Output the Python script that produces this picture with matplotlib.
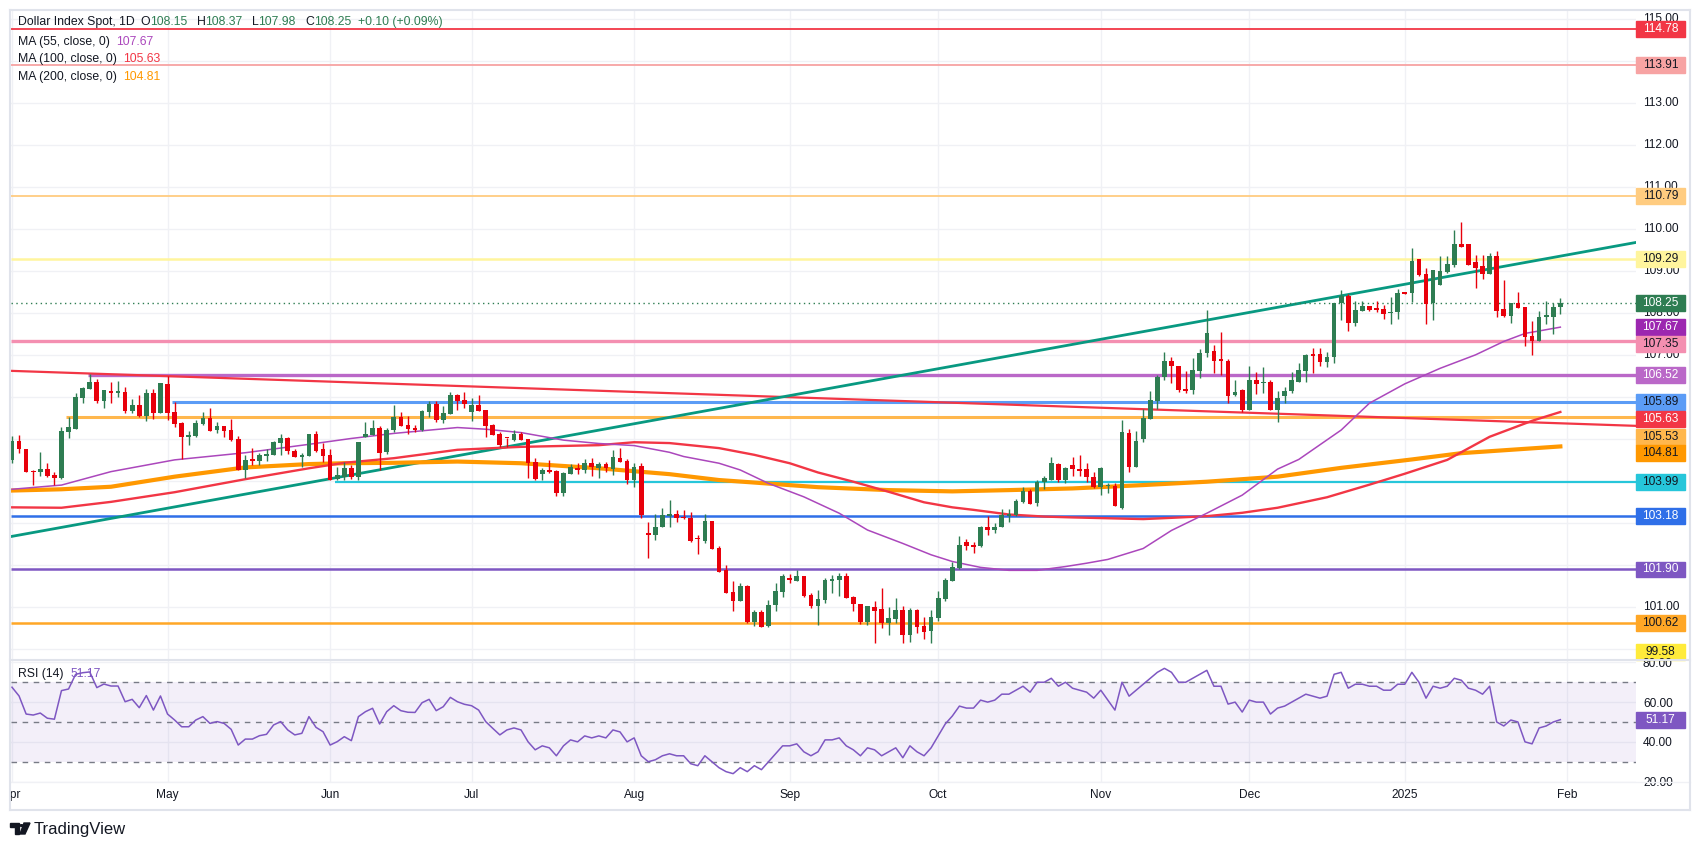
import numpy as np
import pandas as pd
import matplotlib
matplotlib.use('Agg')
import matplotlib.pyplot as plt
import matplotlib.transforms as mtransforms
from matplotlib.patches import Rectangle, Polygon, Circle

plt.rcParams['font.family'] = ['Liberation Sans', 'DejaVu Sans']

# daily bars, Apr 1 2024 .. Jan 31 2025 (weekdays)
dates = pd.bdate_range('2024-04-01', '2025-01-31')

# OHLC, one row per bar
ohlc = [
    (104.51, 105.08, 104.44, 104.96), (104.96, 105.10, 104.68, 104.76), (104.77, 104.77, 104.23, 104.23),
    (104.25, 104.27, 103.91, 104.21), (104.21, 104.70, 104.13, 104.29), (104.29, 104.44, 104.11, 104.13),
    (104.16, 104.23, 103.90, 104.09), (104.09, 105.29, 104.05, 105.20), (105.18, 105.52, 105.04, 105.29),
    (105.25, 106.11, 105.25, 106.01), (105.99, 106.24, 105.86, 106.22), (106.20, 106.55, 106.20, 106.36),
    (106.36, 106.44, 105.87, 105.92), (105.92, 106.17, 105.75, 106.17), (106.15, 106.37, 105.87, 106.11),
    (106.11, 106.39, 106.01, 106.13), (106.13, 106.24, 105.63, 105.67), (105.67, 105.96, 105.62, 105.82),
    (105.82, 106.05, 105.54, 105.56), (105.56, 106.19, 105.44, 106.10), (106.10, 106.19, 105.48, 105.63),
    (105.63, 106.34, 105.63, 106.34), (106.32, 106.50, 105.46, 105.63), (105.65, 105.89, 105.29, 105.37),
    (105.39, 105.40, 104.52, 105.06), (105.06, 105.20, 104.86, 105.10), (105.08, 105.46, 105.06, 105.39),
    (105.36, 105.65, 105.34, 105.51), (105.51, 105.74, 105.20, 105.20), (105.22, 105.40, 105.14, 105.32),
    (105.32, 105.32, 105.06, 105.20), (105.22, 105.48, 104.96, 104.98), (105.00, 105.08, 104.27, 104.27),
    (104.27, 104.63, 104.09, 104.51), (104.51, 104.80, 104.39, 104.49), (104.49, 104.68, 104.39, 104.63),
    (104.61, 104.78, 104.49, 104.65), (104.63, 104.96, 104.63, 104.94), (104.92, 105.13, 104.63, 105.04),
    (105.04, 105.06, 104.65, 104.73), (104.73, 104.77, 104.59, 104.59), (104.59, 104.67, 104.35, 104.63),
    (104.60, 105.13, 104.60, 105.13), (105.13, 105.20, 104.69, 104.73), (104.77, 104.90, 104.45, 104.61),
    (104.63, 104.78, 104.03, 104.03), (104.05, 104.35, 104.03, 104.15), (104.11, 104.45, 104.03, 104.32),
    (104.32, 104.39, 104.05, 104.11), (104.11, 104.94, 104.02, 104.94), (105.05, 105.40, 105.05, 105.13),
    (105.10, 105.46, 105.10, 105.27), (105.27, 105.32, 104.27, 104.68), (104.70, 105.28, 104.65, 105.22),
    (105.22, 105.82, 105.18, 105.52), (105.52, 105.65, 105.32, 105.32), (105.33, 105.55, 105.13, 105.24),
    (105.25, 105.34, 105.17, 105.23), (105.22, 105.70, 105.20, 105.67), (105.66, 105.91, 105.52, 105.85),
    (105.85, 105.91, 105.40, 105.46), (105.46, 105.79, 105.38, 105.63), (105.61, 106.13, 105.61, 106.05),
    (106.05, 106.08, 105.70, 105.92), (105.94, 106.13, 105.75, 105.85), (105.66, 105.98, 105.44, 105.82),
    (105.82, 106.05, 105.67, 105.67), (105.70, 105.70, 105.06, 105.32), (105.33, 105.36, 105.10, 105.10),
    (105.12, 105.17, 104.82, 104.86), (105.04, 105.04, 104.81, 105.02), (104.98, 105.22, 104.97, 105.13),
    (105.13, 105.17, 104.98, 104.98), (105.00, 105.00, 104.09, 104.44), (104.46, 104.55, 104.03, 104.05),
    (104.17, 104.32, 104.03, 104.27), (104.27, 104.51, 104.19, 104.22), (104.24, 104.28, 103.66, 103.73),
    (103.73, 104.21, 103.66, 104.19), (104.17, 104.41, 104.17, 104.34), (104.32, 104.44, 104.17, 104.28),
    (104.27, 104.53, 104.20, 104.44), (104.44, 104.55, 104.12, 104.34), (104.32, 104.45, 104.09, 104.41),
    (104.41, 104.45, 104.23, 104.32), (104.30, 104.74, 104.15, 104.58), (104.55, 104.79, 104.46, 104.46),
    (104.48, 104.53, 103.94, 104.03), (104.03, 104.44, 103.87, 104.34), (104.36, 104.44, 103.13, 103.19),
    (102.77, 103.03, 102.17, 102.73), (102.73, 103.22, 102.61, 102.91), (102.90, 103.36, 102.90, 103.19),
    (103.17, 103.55, 102.92, 103.21), (103.21, 103.32, 103.04, 103.13), (103.16, 103.32, 103.11, 103.13),
    (103.13, 103.26, 102.55, 102.58), (102.64, 102.72, 102.27, 102.62), (102.58, 103.21, 102.52, 103.05),
    (103.05, 103.05, 102.39, 102.39), (102.40, 102.47, 101.85, 101.85), (101.89, 102.01, 101.35, 101.35),
    (101.36, 101.63, 100.91, 101.15), (101.15, 101.57, 101.15, 101.51), (101.51, 101.53, 100.63, 100.66),
    (100.66, 100.94, 100.55, 100.89), (100.89, 100.94, 100.54, 100.54), (100.55, 101.17, 100.54, 101.05),
    (101.05, 101.59, 100.90, 101.39), (101.37, 101.79, 101.25, 101.75), (101.69, 101.79, 101.59, 101.64),
    (101.63, 101.89, 101.63, 101.75), (101.75, 101.75, 101.25, 101.27), (101.29, 101.35, 100.98, 101.04),
    (101.04, 101.41, 100.59, 101.19), (101.17, 101.70, 101.11, 101.65), (101.63, 101.77, 101.33, 101.67),
    (101.65, 101.81, 101.28, 101.75), (101.75, 101.82, 101.23, 101.23), (101.25, 101.27, 100.91, 101.09),
    (101.08, 101.08, 100.60, 100.66), (100.66, 101.03, 100.59, 101.03), (101.00, 101.15, 100.16, 100.92),
    (100.96, 101.47, 100.50, 100.63), (100.63, 101.00, 100.34, 100.74), (100.72, 101.21, 100.63, 100.94),
    (100.94, 101.04, 100.16, 100.34), (100.34, 100.98, 100.18, 100.94), (100.94, 100.96, 100.38, 100.54),
    (100.55, 100.78, 100.25, 100.40), (100.44, 100.94, 100.16, 100.76), (100.74, 101.39, 100.67, 101.21),
    (101.19, 101.69, 101.15, 101.65), (101.63, 102.09, 101.63, 101.95), (101.93, 102.70, 101.90, 102.48),
    (102.55, 102.63, 102.36, 102.47), (102.48, 102.55, 102.30, 102.44), (102.47, 102.94, 102.44, 102.91),
    (102.91, 103.17, 102.72, 102.84), (102.84, 103.00, 102.76, 102.91), (102.91, 103.35, 102.91, 103.19),
    (103.18, 103.33, 103.04, 103.23), (103.19, 103.59, 103.17, 103.53), (103.51, 103.87, 103.48, 103.77),
    (103.77, 103.81, 103.45, 103.45), (103.49, 104.03, 103.41, 103.99), (103.98, 104.13, 103.82, 104.07),
    (104.03, 104.59, 104.03, 104.44), (104.41, 104.44, 103.99, 104.03), (104.02, 104.35, 103.95, 104.32),
    (104.39, 104.58, 104.13, 104.29), (104.29, 104.63, 104.13, 104.24), (104.29, 104.43, 103.99, 104.11),
    (104.11, 104.21, 103.83, 103.86), (103.86, 104.35, 103.67, 104.31), (103.88, 103.97, 103.71, 103.90),
    (103.89, 103.97, 103.40, 103.40), (103.37, 105.46, 103.34, 105.17), (105.14, 105.24, 104.21, 104.33),
    (104.33, 105.20, 104.33, 104.95), (105.01, 105.72, 104.94, 105.51), (105.49, 106.16, 105.48, 105.94),
    (105.92, 106.52, 105.72, 106.48), (106.48, 107.08, 106.41, 106.86), (106.86, 106.96, 106.35, 106.75),
    (106.75, 106.75, 106.13, 106.17), (106.20, 106.63, 106.11, 106.16), (106.17, 106.93, 106.09, 106.65),
    (106.63, 107.14, 106.47, 107.06), (107.05, 108.08, 106.95, 107.54), (107.10, 107.24, 106.59, 106.87),
    (106.90, 107.55, 106.53, 106.86), (106.86, 106.92, 105.87, 106.04), (106.05, 106.41, 106.03, 106.13),
    (106.17, 106.19, 105.64, 105.70), (105.70, 106.74, 105.70, 106.41), (106.41, 106.60, 106.08, 106.32),
    (106.33, 106.73, 106.11, 106.36), (106.36, 106.40, 105.70, 105.70), (105.70, 106.15, 105.42, 105.99),
    (106.02, 106.24, 105.86, 106.15), (106.14, 106.61, 106.11, 106.41), (106.37, 106.81, 106.37, 106.65),
    (106.63, 107.03, 106.37, 107.01), (107.01, 107.17, 106.58, 106.99), (107.03, 107.17, 106.75, 106.85),
    (106.85, 107.07, 106.71, 106.95), (106.95, 108.25, 106.82, 108.24), (108.24, 108.55, 107.83, 108.41),
    (108.41, 108.46, 107.59, 107.78), (107.78, 108.29, 107.70, 108.08), (108.06, 108.29, 108.06, 108.17),
    (108.17, 108.17, 108.06, 108.09), (108.13, 108.29, 108.04, 108.09), (108.10, 108.20, 107.86, 107.98),
    (108.01, 108.38, 107.75, 108.03), (108.03, 108.57, 107.86, 108.48), (108.49, 108.49, 108.47, 108.47),
    (108.48, 109.55, 108.28, 109.25), (109.29, 109.29, 108.89, 108.91), (108.93, 109.07, 107.75, 108.22),
    (108.24, 109.02, 107.84, 109.02), (108.67, 109.36, 108.67, 109.01), (108.99, 109.36, 108.97, 109.17),
    (109.15, 109.98, 109.10, 109.65), (109.65, 110.17, 109.59, 109.59), (109.65, 109.65, 109.15, 109.15),
    (109.21, 109.39, 108.61, 109.09), (109.13, 109.39, 108.82, 108.94), (108.94, 109.43, 108.94, 109.36),
    (109.36, 109.48, 107.92, 108.06), (108.10, 108.79, 107.92, 107.94), (107.94, 108.25, 107.76, 108.24),
    (108.25, 108.51, 108.13, 108.13), (108.16, 108.16, 107.23, 107.44), (107.46, 107.82, 107.00, 107.33),
    (107.33, 108.05, 107.33, 107.91), (107.90, 108.29, 107.75, 107.96), (107.92, 108.25, 107.51, 108.15),
    (108.15, 108.37, 107.98, 108.25),
]
opens = np.array([r[0] for r in ohlc])
highs = np.array([r[1] for r in ohlc])
lows = np.array([r[2] for r in ohlc])
closes = np.array([r[3] for r in ohlc])

# moving averages, read at sample bars
ma55_x = [0, 7, 14, 23, 33, 42, 48, 54, 63, 67, 72, 78, 83, 88, 93, 95, 100, 103, 107, 112, 117, 121, 126,
          130, 133, 137, 141, 145, 149, 152, 155, 160, 164, 169, 174, 179, 182, 188, 192, 197, 202, 207, 211, 214, 219]
ma55_y = [103.81, 103.91, 104.23, 104.51, 104.68, 104.88, 105.02, 105.14, 105.28, 105.24, 105.16, 104.98, 104.90,
          104.85, 104.69, 104.59, 104.43, 104.27, 103.95, 103.63, 103.24, 102.84, 102.52, 102.25, 102.09, 101.95,
          101.88, 101.88, 101.97, 102.05, 102.14, 102.40, 102.83, 103.24, 103.67, 104.29, 104.52, 105.22, 105.86,
          106.32, 106.69, 107.01, 107.33, 107.52, 107.67]
ma100_x = [0, 7, 14, 23, 33, 42, 47, 54, 63, 72, 83, 88, 93, 100, 105, 110, 114, 119, 124, 129, 133, 136, 141,
           146, 150, 155, 160, 164, 169, 174, 179, 186, 192, 197, 203, 209, 215, 219]
ma100_y = [103.38, 103.37, 103.51, 103.74, 104.05, 104.31, 104.44, 104.55, 104.75, 104.82, 104.86, 104.93, 104.91,
           104.79, 104.63, 104.43, 104.21, 103.99, 103.75, 103.50, 103.38, 103.32, 103.21, 103.16, 103.14, 103.12,
           103.10, 103.13, 103.17, 103.25, 103.37, 103.62, 103.92, 104.18, 104.51, 105.06, 105.44, 105.65]
ma200_x = [0, 7, 14, 23, 33, 42, 47, 54, 63, 72, 83, 88, 93, 100, 105, 114, 124, 133, 141, 150, 160, 169, 179,
           188, 198, 205, 219]
ma200_y = [103.78, 103.81, 103.87, 104.11, 104.33, 104.41, 104.43, 104.44, 104.47, 104.43, 104.31, 104.24, 104.17,
           104.03, 103.97, 103.86, 103.79, 103.76, 103.79, 103.83, 103.91, 103.99, 104.11, 104.32, 104.52, 104.67, 104.83]

# RSI(14), one value per bar
rsi = [
    67.5, 63.1, 54.0, 53.5, 54.5, 51.9, 51.4, 65.8, 66.6, 74.0,
    74.8, 75.2, 67.3, 69.1, 68.1, 68.1, 60.2, 61.4, 57.2, 63.3,
    56.0, 63.1, 54.0, 51.0, 47.6, 47.6, 51.0, 52.7, 49.3, 50.2,
    49.3, 46.3, 38.4, 41.4, 41.4, 43.1, 43.8, 48.5, 50.2, 46.0,
    43.5, 44.3, 52.7, 47.3, 45.1, 38.4, 40.1, 42.6, 40.6, 52.7,
    55.2, 56.9, 49.0, 55.2, 58.2, 55.7, 54.9, 54.8, 59.7, 61.4,
    55.7, 57.7, 62.4, 60.2, 58.9, 58.2, 56.0, 50.2, 46.8, 43.5,
    46, 47, 46, 40, 36, 38, 37, 33, 38, 41, 40, 43, 42, 43, 42, 46, 45, 40,
    42, 33, 30, 31, 33, 34, 33, 33, 29, 28, 33, 30, 27, 25, 24, 27, 25, 28, 26, 30, 34, 38,
    38, 39, 35, 33, 35, 41, 41, 42, 38, 36, 33, 37, 36, 33, 35, 37, 32, 38, 35, 33, 37,
    43, 49, 53, 58, 57, 57, 61, 60, 61, 64, 64, 66, 68, 65, 70, 70, 72, 68, 70, 67, 66, 65, 62,
    66, 61, 56, 70, 63, 66, 69, 72, 75, 77, 75, 70, 70, 72, 74, 76, 68, 68, 59, 60, 55,
    61, 60, 60, 54, 57, 58, 60, 62, 64, 63, 62, 63, 74, 75, 67, 69, 69, 68, 68, 66, 66, 69,
    69, 75, 70, 62, 68, 67, 68, 72, 71, 67, 66, 64, 68, 50, 48, 51, 50, 40, 39, 47, 48, 50, 51.17,
]

# horizontal levels: price, colour, width(pt), first bar
levels = [
    (114.78, '#f23645', 1.3, -1), (113.91, '#f7a3a3', 1.3, -1), (110.79, '#ffcc80', 1.3, -1),
    (109.29, '#fff59d', 1.8, -1), (107.35, '#f48fb1', 2.4, -1), (106.52, '#ba68c8', 2.4, 10.8),
    (105.89, '#5b9cf6', 2.2, 22.6), (105.53, '#ffb74d', 2.2, 7.6), (103.99, '#26c6da', 1.6, 45.7),
    (103.18, '#2f6fe8', 1.8, -1), (101.90, '#7e57c2', 1.8, -1), (100.62, '#ffa726', 1.8, -1),
]
trend_red = ([-0.2, 229.7], [106.63, 105.32])
trend_green = ([-0.3, 229.8], [102.68, 109.69])

# price scale ticks that are not hidden under a tag
price_ticks = [101, 107, 108, 109, 110, 111, 112, 113, 115]

# right-hand price tags: text, position, background, text colour
tags = [
    ('114.78', 114.78, '#f23645', 'white'), ('113.91', 113.91, '#f7a3a3', '#131722'),
    ('110.79', 110.79, '#ffcc80', '#131722'), ('109.29', 109.29, '#fff59d', '#131722'),
    ('108.25', 108.25, '#2e7d52', 'white'), ('107.67', 107.67, '#9c27b0', 'white'),
    ('107.35', 107.28, '#f48fb1', '#131722'), ('106.52', 106.52, '#ba68c8', 'white'),
    ('105.89', 105.89, '#5b9cf6', '#131722'), ('105.63', 105.48, '#f23645', 'white'),
    ('105.53', 105.06, '#ffb74d', '#131722'), ('104.81', 104.67, '#ff9800', '#131722'),
    ('103.99', 103.99, '#26c6da', '#131722'), ('103.18', 103.18, '#2f6fe8', 'white'),
    ('101.90', 101.90, '#7e57c2', 'white'), ('100.62', 100.62, '#ffa726', '#131722'),
    ('99.58', 99.94, '#ffeb3b', '#131722'),
]

W, H = 1700, 846
GREEN, RED = '#2e7d52', '#e8000b'
TXT = '#131722'
GRID = '#f0f1f5'
FS = 8.6


def fr(x0, y0, x1, y1):
    # pixel box (top-left origin) -> figure rect
    return [x0 / W, 1 - y1 / H, (x1 - x0) / W, (y1 - y0) / H]


fig = plt.figure(figsize=(W / 100, H / 100), dpi=100)
fig.patch.set_facecolor('white')
ax = fig.add_axes(fr(11, 10, 1636, 659))
ax_rsi = fig.add_axes(fr(11, 660, 1636, 782))
ax_t = fig.add_axes(fr(11, 782, 1636, 810))

xmin, xmax = -0.14, 229.7
n = len(ohlc)
idx = np.arange(n)

month_idx, month_lab = [], []
for i, d in enumerate(dates):
    if i == 0 or d.month != dates[i - 1].month:
        month_idx.append(i)
        month_lab.append('2025' if d.month == 1 else d.strftime('%b'))
month_idx.append(n)
month_lab.append('Feb')

for a in (ax, ax_rsi, ax_t):
    a.set_xlim(xmin, xmax)
    for s in a.spines.values():
        s.set_visible(False)
    a.set_xticks(month_idx)
    a.tick_params(axis='x', length=0, labelbottom=False)

# ---- price pane
ax.set_ylim(99.769, 115.221)
ax.set_yticks(np.arange(100, 116), minor=False)
ax.set_yticklabels(['' for v in range(100, 116)])
ax.yaxis.tick_right()
ax.tick_params(axis='y', length=0)
ax.grid(True, color=GRID, lw=1)
ax.set_axisbelow(True)

blend = mtransforms.blended_transform_factory(ax.transAxes, ax.transData)
for v in price_ticks:
    ax.text(1.0 + 7 / 1625, v, f'{v:.2f}', transform=blend, ha='left', va='center',
            fontsize=FS, color=TXT, clip_on=False, zorder=4)

for p, col, lw, x0 in levels:
    ax.plot([max(x0, xmin), xmax], [p, p], color=col, lw=lw, zorder=2, solid_capstyle='butt')
ax.plot(*trend_red, color='#f23645', lw=1.6, zorder=2)
ax.plot(*trend_green, color='#089981', lw=2.0, zorder=2)
ax.plot(ma200_x, ma200_y, color='#ff9800', lw=3.0, zorder=2.2)
ax.plot(ma100_x, ma100_y, color='#f23645', lw=1.7, zorder=2.3)
ax.plot(ma55_x, ma55_y, color='#ab47bc', lw=1.1, zorder=2.4)
ax.plot([xmin, xmax], [closes[-1]] * 2, color=GREEN, lw=1, ls=(0, (1, 2.5)), zorder=2.5)

up = closes >= opens
cols = np.where(up, GREEN, RED)
ax.vlines(idx, lows, highs, colors=cols, lw=1.0, zorder=3)
body_lo = np.minimum(opens, closes)
body_h = np.maximum(np.abs(closes - opens), 0.03)
ax.bar(idx, body_h, bottom=body_lo, width=0.66, color=cols, lw=0, zorder=3.1)

tag_w = 49 / 1625
for s, p, bg, fg in tags:
    ax.add_patch(Rectangle((1.0, p - 0.19), tag_w, 0.38, transform=blend, color=bg,
                           clip_on=False, zorder=6))
    ax.text(1.0 + tag_w / 2, p, s, transform=blend, ha='center', va='center',
            fontsize=FS, color=fg, zorder=7, clip_on=False)

# ---- RSI pane
ax_rsi.set_ylim(19.8, 81.2)
ax_rsi.set_yticks([20, 40, 60, 80])
ax_rsi.set_yticklabels(['20.00', '40.00', '60.00', '80.00'], fontsize=FS, color=TXT)
ax_rsi.yaxis.tick_right()
ax_rsi.tick_params(axis='y', length=0, pad=5)
ax_rsi.grid(True, color=GRID, lw=1)
ax_rsi.set_axisbelow(True)
ax_rsi.axhspan(30, 70, color='#7e57c2', alpha=0.09, lw=0)
for lv in (70, 50, 30):
    ax_rsi.axhline(lv, color='#787b86', lw=1, ls=(0, (4, 4)))
ax_rsi.plot(idx, rsi, color='#7e57c2', lw=1.1, zorder=3)
rblend = mtransforms.blended_transform_factory(ax_rsi.transAxes, ax_rsi.transData)
ax_rsi.add_patch(Rectangle((1.0, rsi[-1] - 4.0), tag_w, 8.0, transform=rblend, color='#7e57c2',
                           clip_on=False, zorder=6))
ax_rsi.text(1.0 + tag_w / 2, rsi[-1], f'{rsi[-1]:.2f}', transform=rblend, ha='center', va='center',
            fontsize=FS, color='white', zorder=7, clip_on=False)

# ---- time scale
ax_t.set_ylim(0, 1)
ax_t.set_yticks([])
for i, lab in zip(month_idx, month_lab):
    ax_t.text(i, 0.55, lab, ha='center', va='center', fontsize=FS, color=TXT, clip_on=True)

# ---- frame and separators
def hline_px(y, x0, x1, col='#e0e3eb', lw=1.5):
    fig.add_artist(plt.Line2D([x0 / W, x1 / W], [1 - y / H] * 2, color=col, lw=lw))

def vline_px(x, y0, y1, col='#e0e3eb', lw=1.5):
    fig.add_artist(plt.Line2D([x / W] * 2, [1 - y0 / H, 1 - y1 / H], color=col, lw=lw))

hline_px(10, 10, 1690)
hline_px(659.5, 10, 1690)
hline_px(782, 10, 1690, col='#f0f1f5', lw=1)
hline_px(810, 10, 1690)
vline_px(10, 10, 810)
vline_px(1690, 10, 810)

# ---- legend texts, laid out piece by piece
renderer = fig.canvas.get_renderer()

def seq(x, y, pieces, size=8.8):
    for s, col, gap in pieces:
        tx = fig.text(x / W, 1 - y / H, s, color=col, fontsize=size, ha='left', va='center')
        x = tx.get_window_extent(renderer).x1 + gap

seq(18, 22, [('Dollar Index Spot, 1D', TXT, 6), ('O', TXT, 0), ('108.15', GREEN, 9),
             ('H', TXT, 0), ('108.37', GREEN, 9), ('L', TXT, 0), ('107.98', GREEN, 9),
             ('C', TXT, 0), ('108.25', GREEN, 7), ('+0.10 (+0.09%)', GREEN, 0)])
seq(18, 42, [('MA (55, close, 0)', TXT, 6), ('107.67', '#ab47bc', 0)])
seq(18, 59, [('MA (100, close, 0)', TXT, 6), ('105.63', '#f23645', 0)])
seq(18, 77, [('MA (200, close, 0)', TXT, 6), ('104.81', '#ff9800', 0)])
seq(18, 674, [('RSI (14)', TXT, 7), ('51.17', '#7e57c2', 0)])

# ---- TradingView mark
def px(x, y):
    return (x / W, 1 - y / H)

fig.add_artist(Polygon([px(10, 823), px(19, 823), px(19, 834), px(15, 834), px(15, 827), px(10, 827)],
                       closed=True, color=TXT, transform=fig.transFigure))
fig.add_artist(Circle(px(21.5, 825.5), 1.6 / W, color=TXT, transform=fig.transFigure))
fig.add_artist(Polygon([px(24, 823), px(30, 823), px(25, 834), px(20, 834)],
                       closed=True, color=TXT, transform=fig.transFigure))
fig.text(34 / W, 1 - 829 / H, 'TradingView', color=TXT, fontsize=12, ha='left', va='center')

fig.savefig('out.png', dpi=100, facecolor='white')
